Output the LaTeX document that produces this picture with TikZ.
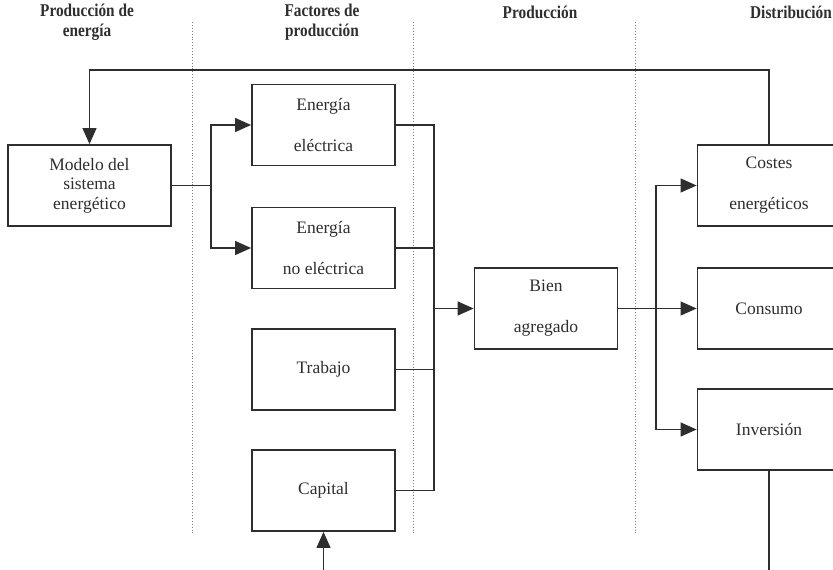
\documentclass[tikz,border=0pt]{standalone}
\usepackage{fontspec}
\setmainfont{Liberation Serif}
\newfontfamily\headfont[FakeStretch=0.85]{Liberation Serif}
\usetikzlibrary{arrows.meta}
\definecolor{ink}{HTML}{2E2E2E}
\begin{document}
\begin{tikzpicture}[x=1pt,y=-1pt,
  box/.style={draw=ink, line width=1.8pt, minimum width=143pt, minimum height=81pt,
    align=center, inner sep=0pt, text=ink, font=\fontsize{17.5}{21}\selectfont},
  conn/.style={draw=ink, line width=1.2pt},
  arr/.style={conn, -{Triangle[length=16pt,width=14pt]}},
  head/.style={font=\headfont\bfseries\fontsize{18}{20}\selectfont, align=center, text=ink},
  sepline/.style={draw=gray, dotted, line width=0.9pt}]
\useasboundingbox (0,0) rectangle (833,570);
\clip (0,0) rectangle (833,570);

% headers
\node[head] (h1) at (87,22) {Producción de\\energía};
\node[head] (h2) at (322,22) {Factores de\\producción};
\node[head] (h3) at (540,12) {Producción};
\node[head] (h4) at (791,12) {Distribución};

% column separators
\draw[sepline] (192,22) -- (192,534);
\draw[sepline] (413,22) -- (413,534);
\draw[sepline] (635,22) -- (635,534);

% boxes
\node[box, minimum width=163pt, font=\fontsize{17.5}{19.5}\selectfont] (modelo) at (89.5,185.5) {Modelo del\\sistema\\energético};
\node[box] (elec) at (323.5,125) {Energía\\[20pt]eléctrica};
\node[box] (noelec) at (323.5,248) {Energía\\[20pt]no eléctrica};
\node[box] (trabajo) at (323.5,369.5) {Trabajo};
\node[box] (capital) at (323.5,490.5) {Capital};
\node[box] (bien) at (546,308.5) {Bien\\[20pt]agregado};
\node[box] (costes) at (769,185.5) {Costes\\[20pt]energéticos};
\node[box] (consumo) at (769,308.5) {Consumo};
\node[box] (inversion) at (769,429.5) {Inversión};

% helper coordinates
\coordinate (top) at (0,70);
\coordinate (split1) at (211,185.5);
\coordinate (bus) at (434,0);
\coordinate (split2) at (656,0);
\coordinate (bottom) at (0,580);

% feedback loop on top
\draw[arr] (costes.north) -- (costes.north |- top) -| (modelo.north);

% modelo to energy factors
\draw[conn] (modelo.east) -- (split1);
\draw[arr] (split1) |- (elec.west);
\draw[arr] (split1) |- (noelec.west);

% factors bus to bien
\draw[conn] (elec.east) -- (elec.east -| bus) -- (capital.east -| bus) -- (capital.east);
\draw[conn] (noelec.east) -- (noelec.east -| bus);
\draw[conn] (trabajo.east) -- (trabajo.east -| bus);
\draw[arr] (bien.west -| bus) -- (bien.west);

% bien to distribution
\draw[arr] (bien.east) -- (consumo.west);
\draw[arr] (bien.east -| split2) |- (costes.west);
\draw[arr] (bien.east -| split2) |- (inversion.west);

% bottom loop
\draw[arr] (capital.south |- bottom) -- (capital.south);
\draw[conn] (inversion.south) -- (inversion.south |- bottom);
\end{tikzpicture}
\end{document}
